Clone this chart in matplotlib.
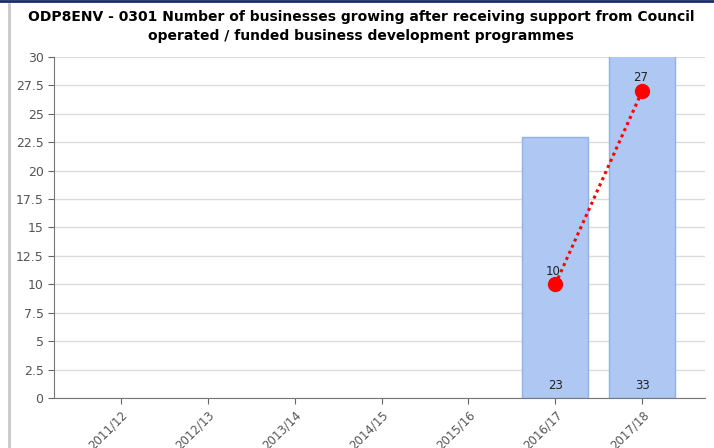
import matplotlib.pyplot as plt

# Data
years = ["2011/12", "2012/13", "2013/14", "2014/15", "2015/16", "2016/17", "2017/18"]
bar_years = ["2016/17", "2017/18"]
bar_values = [23, 33]
line_years = ["2016/17", "2017/18"]
line_values = [10, 27]
y_ticks = [0, 2.5, 5, 7.5, 10, 12.5, 15, 17.5, 20, 22.5, 25, 27.5, 30]

plt.rcParams["font.family"] = ["DejaVu Sans"]

fig = plt.figure(figsize=(7.14, 4.48), dpi=100)
ax = fig.add_axes([0.0756, 0.1116, 0.9114, 0.7612])

xpos = {y: i for i, y in enumerate(years)}
bx = [xpos[y] for y in bar_years]
lx = [xpos[y] for y in line_years]

ax.bar(bx, bar_values, width=0.76, color="#aec7f3", edgecolor="#90b1ea",
       linewidth=1, zorder=2)
for x, v in zip(bx, bar_values):
    ax.text(x, 0.5, str(v), ha="center", va="bottom", fontsize=8.5, color="#222222", zorder=4)

ax.plot(lx, line_values, color="#ff0000", linestyle=(0, (1, 1.2)), linewidth=2.2,
        marker="o", markersize=10, zorder=3)
for x, v in zip(lx, line_values):
    ax.text(x - 0.02, v + 0.6, str(v), ha="center", va="bottom", fontsize=8.5,
            color="#222222", zorder=4)

ax.set_xlim(-0.77, 6.72)
ax.set_ylim(0, 30)
ax.set_yticks(y_ticks)
ax.set_yticklabels([f"{t:g}" for t in y_ticks])
ax.set_xticks(range(len(years)))
ax.set_xticklabels(years, rotation=45, ha="right", rotation_mode="anchor")
ax.tick_params(axis="both", colors="#666666", labelsize=9, length=4, width=0.8)
ax.tick_params(axis="x", labelcolor="#555555", labelsize=8.5)
ax.tick_params(axis="y", labelcolor="#555555")

ax.grid(axis="y", color="#dcdcdc", linewidth=1, zorder=0)
ax.set_axisbelow(True)
for s in ["top", "right"]:
    ax.spines[s].set_visible(False)
ax.spines["left"].set_color("#777777")
ax.spines["bottom"].set_color("#777777")

fig.text(0.506, 0.978, "ODP8ENV - 0301 Number of businesses growing after receiving support from Council\n"
         "operated / funded business development programmes",
         ha="center", va="top", fontsize=10, fontweight="bold", linespacing=1.5)

# frame lines of the original widget
fig.add_artist(plt.Line2D([0, 1], [0.997, 0.997], color="#1a2a6c", linewidth=2, transform=fig.transFigure))
fig.add_artist(plt.Line2D([0.0125, 0.0125], [0, 0.99], color="#c8c8c8", linewidth=2, transform=fig.transFigure))

fig.savefig("out.png", dpi=100)
